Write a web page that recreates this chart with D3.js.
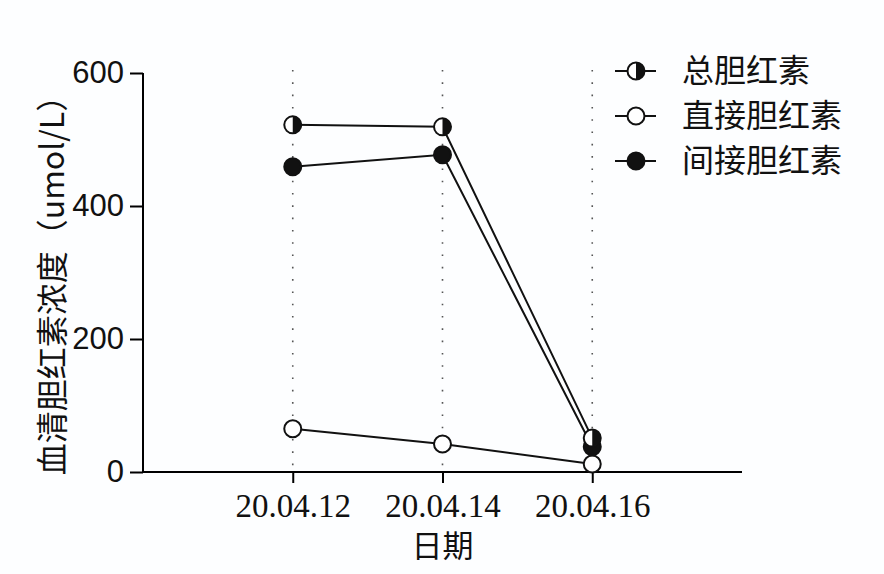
<!DOCTYPE html>
<html>
<head>
<meta charset="utf-8">
<script src="https://cdn.jsdelivr.net/npm/d3@7"></script>
<style>
  body { margin: 0; background: #fdfeff; }
  svg { display: block; }
</style>
</head>
<body>
<svg id="chart"></svg>
<script>
// data
var dates = ["20.04.12", "20.04.14", "20.04.16"];
var totalVals = [522, 519, 51];
var directVals = [65, 42, 12];
var indirectVals = [459, 477, 38];
var yTicks = [0, 200, 400, 600];
var seriesNames = ["总胆红素", "直接胆红素", "间接胆红素"];

var width = 884, height = 574;
var plotLeft = 143, plotRight = 742, plotTop = 73, plotBottom = 472;

var svg = d3.select("#chart")
    .attr("width", width)
    .attr("height", height);

var x = d3.scalePoint()
    .domain(dates)
    .range([plotLeft, plotRight])
    .padding(1);

var y = d3.scaleLinear()
    .domain([0, 600])
    .range([plotBottom, plotTop]);

// dotted verticals at each date
svg.append("g")
    .selectAll("line")
    .data(dates)
    .enter()
    .append("line")
    .attr("x1", function(d) { return x(d); })
    .attr("x2", function(d) { return x(d); })
    .attr("y1", y(600) - 3)
    .attr("y2", y(0))
    .attr("stroke", "#555")
    .attr("stroke-width", 1.6)
    .attr("stroke-dasharray", "1.6,10.7");

// axes
var x_axis = d3.axisBottom(x).tickSize(11).tickPadding(11);
var y_axis = d3.axisLeft(y).tickValues(yTicks).tickSize(13).tickPadding(6);

var gx = svg.append("g")
    .attr("transform", "translate(0," + plotBottom + ")")
    .call(x_axis);
gx.select(".domain").attr("stroke-width", 2).attr("d", "M" + plotLeft + ",0H" + plotRight);
gx.selectAll(".tick line").attr("stroke-width", 2);
gx.selectAll("text")
    .style("font-family", "'Liberation Serif', 'Times New Roman', serif")
    .style("font-size", "33px")
    .attr("fill", "#111");

var gy = svg.append("g")
    .attr("transform", "translate(" + plotLeft + ",0)")
    .call(y_axis);
gy.select(".domain").attr("stroke-width", 2).attr("d", "M0," + plotTop + "V" + plotBottom);
gy.selectAll(".tick line").attr("stroke-width", 2);
gy.selectAll("text")
    .style("font-family", "'Liberation Sans', Arial, sans-serif")
    .style("font-size", "31px")
    .attr("fill", "#111");

// axis titles
svg.append("text")
    .attr("transform", "translate(64," + ((plotTop + plotBottom) / 2 + 5) + ") rotate(-90)")
    .attr("text-anchor", "middle")
    .style("font-family", "'Noto Sans CJK SC', sans-serif")
    .style("font-size", "32px")
    .attr("fill", "#111")
    .text("血清胆红素浓度（umol/L）");

svg.append("text")
    .attr("x", x(dates[1]))
    .attr("y", 557)
    .attr("text-anchor", "middle")
    .style("font-family", "'Noto Sans CJK SC', sans-serif")
    .style("font-size", "31px")
    .attr("fill", "#111")
    .text("日期");

// lines
var line = d3.line()
    .x(function(d, i) { return x(dates[i]); })
    .y(function(d) { return y(d); });

[totalVals, indirectVals, directVals].forEach(function(vals) {
    svg.append("path")
        .datum(vals)
        .attr("d", line)
        .attr("fill", "none")
        .attr("stroke", "#111")
        .attr("stroke-width", 2);
});

var r = 8.5;

// marker drawing: kind 0 = half filled, 1 = open, 2 = filled
function marker(g, cx, cy, kind) {
    if (kind == 0) {
        g.append("circle").attr("cx", cx).attr("cy", cy).attr("r", r)
            .attr("fill", "#fff").attr("stroke", "#111").attr("stroke-width", 2);
        g.append("path")
            .attr("d", "M" + cx + "," + (cy - r) + "A" + r + "," + r + " 0 0,1 " + cx + "," + (cy + r) + "Z")
            .attr("fill", "#111");
    } else {
        g.append("circle").attr("cx", cx).attr("cy", cy).attr("r", r)
            .attr("fill", kind == 2 ? "#111" : "#fff")
            .attr("stroke", "#111").attr("stroke-width", 2);
    }
}

var markers = svg.append("g");
directVals.forEach(function(d, i) { marker(markers, x(dates[i]), y(d), 1); });
indirectVals.forEach(function(d, i) { marker(markers, x(dates[i]), y(d), 2); });
totalVals.forEach(function(d, i) { marker(markers, x(dates[i]), y(d), 0); });

// legend
var legend = svg.append("g");
seriesNames.forEach(function(name, i) {
    var ly = 71 + i * 45;
    legend.append("line")
        .attr("x1", 615).attr("x2", 656)
        .attr("y1", ly).attr("y2", ly)
        .attr("stroke", "#111").attr("stroke-width", 2);
    marker(legend, 636, ly, i == 0 ? 0 : (i == 1 ? 1 : 2));
    legend.append("text")
        .attr("x", 682)
        .attr("y", ly + 11)
        .style("font-family", "'Noto Sans CJK SC', sans-serif")
        .style("font-size", "32px")
        .attr("fill", "#111")
        .text(name);
});
</script>
</body>
</html>
